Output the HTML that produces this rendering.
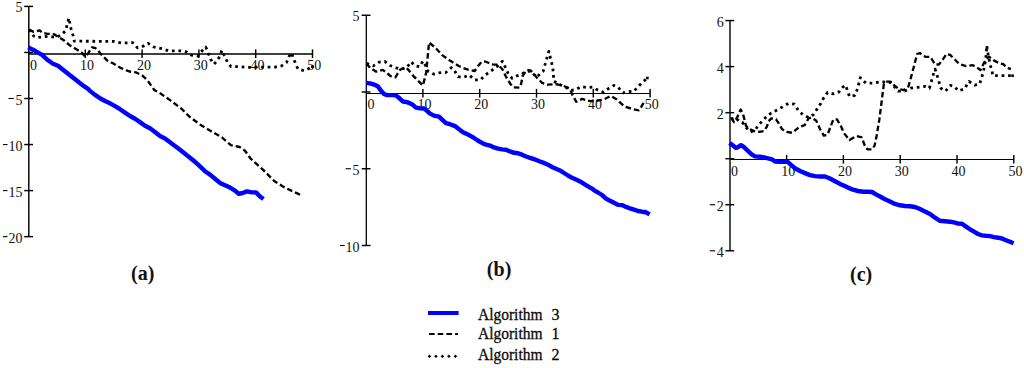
<!DOCTYPE html>
<html><head><meta charset="utf-8"><title>Algorithms comparison</title>
<style>html,body{margin:0;padding:0;background:#fff;width:1024px;height:368px;overflow:hidden;}svg{display:block;}text{font-family:"Liberation Serif",serif;}</style>
</head><body>
<svg width="1024" height="368" viewBox="0 0 1024 368" font-family="Liberation Serif, serif" fill="#111">
<line x1="28.80" y1="6.40" x2="28.80" y2="236.65" stroke="#000" stroke-width="1.45"/>
<line x1="28.80" y1="54.00" x2="312.50" y2="54.00" stroke="#000" stroke-width="1.45"/>
<line x1="24.20" y1="6.40" x2="33.00" y2="6.40" stroke="#000" stroke-width="1.45"/>
<line x1="24.20" y1="52.45" x2="33.00" y2="52.45" stroke="#000" stroke-width="1.45"/>
<line x1="24.20" y1="98.50" x2="33.00" y2="98.50" stroke="#000" stroke-width="1.45"/>
<line x1="24.20" y1="144.55" x2="33.00" y2="144.55" stroke="#000" stroke-width="1.45"/>
<line x1="24.20" y1="190.60" x2="33.00" y2="190.60" stroke="#000" stroke-width="1.45"/>
<line x1="24.20" y1="236.65" x2="33.00" y2="236.65" stroke="#000" stroke-width="1.45"/>
<line x1="85.30" y1="49.40" x2="85.30" y2="58.10" stroke="#000" stroke-width="1.45"/>
<line x1="142.10" y1="49.40" x2="142.10" y2="58.10" stroke="#000" stroke-width="1.45"/>
<line x1="198.90" y1="49.40" x2="198.90" y2="58.10" stroke="#000" stroke-width="1.45"/>
<line x1="255.70" y1="49.40" x2="255.70" y2="58.10" stroke="#000" stroke-width="1.45"/>
<line x1="312.50" y1="49.40" x2="312.50" y2="58.10" stroke="#000" stroke-width="1.45"/>
<text x="22.50" y="12.40" font-size="14" text-anchor="end" font-weight="normal" >5</text>
<rect x="8.5" y="97.95" width="5.3" height="1.1" fill="#000"/>
<text x="22.50" y="104.50" font-size="14" text-anchor="end" font-weight="normal" >5</text>
<rect x="3.0" y="144.00" width="4.5" height="1.1" fill="#000"/>
<text x="22.50" y="150.55" font-size="14" text-anchor="end" font-weight="normal" >10</text>
<rect x="3.0" y="190.05" width="4.5" height="1.1" fill="#000"/>
<text x="22.50" y="196.60" font-size="14" text-anchor="end" font-weight="normal" >15</text>
<rect x="3.0" y="236.10" width="4.5" height="1.1" fill="#000"/>
<text x="22.50" y="242.65" font-size="14" text-anchor="end" font-weight="normal" >20</text>
<text x="33.50" y="69.50" font-size="14" text-anchor="middle" font-weight="normal" >0</text>
<text x="87.10" y="69.50" font-size="14" text-anchor="middle" font-weight="normal" >10</text>
<text x="143.90" y="69.50" font-size="14" text-anchor="middle" font-weight="normal" >20</text>
<text x="200.70" y="69.50" font-size="14" text-anchor="middle" font-weight="normal" >30</text>
<text x="257.50" y="69.50" font-size="14" text-anchor="middle" font-weight="normal" >40</text>
<text x="314.30" y="69.50" font-size="14" text-anchor="middle" font-weight="normal" >50</text>
<line x1="366.30" y1="15.25" x2="366.30" y2="245.50" stroke="#000" stroke-width="1.3"/>
<line x1="366.30" y1="93.50" x2="650.10" y2="93.50" stroke="#000" stroke-width="1.0"/>
<line x1="361.70" y1="15.25" x2="370.50" y2="15.25" stroke="#000" stroke-width="1.45"/>
<line x1="361.70" y1="92.00" x2="370.50" y2="92.00" stroke="#000" stroke-width="1.45"/>
<line x1="361.70" y1="168.75" x2="370.50" y2="168.75" stroke="#000" stroke-width="1.45"/>
<line x1="361.70" y1="245.50" x2="370.50" y2="245.50" stroke="#000" stroke-width="1.45"/>
<line x1="422.90" y1="88.90" x2="422.90" y2="97.60" stroke="#000" stroke-width="1.45"/>
<line x1="479.70" y1="88.90" x2="479.70" y2="97.60" stroke="#000" stroke-width="1.45"/>
<line x1="536.50" y1="88.90" x2="536.50" y2="97.60" stroke="#000" stroke-width="1.45"/>
<line x1="593.30" y1="88.90" x2="593.30" y2="97.60" stroke="#000" stroke-width="1.45"/>
<line x1="650.10" y1="88.90" x2="650.10" y2="97.60" stroke="#000" stroke-width="1.45"/>
<text x="359.60" y="21.25" font-size="14" text-anchor="end" font-weight="normal" >5</text>
<rect x="345.6" y="168.20" width="5.3" height="1.1" fill="#000"/>
<text x="359.60" y="174.75" font-size="14" text-anchor="end" font-weight="normal" >5</text>
<rect x="340.1" y="244.95" width="4.5" height="1.1" fill="#000"/>
<text x="359.60" y="251.50" font-size="14" text-anchor="end" font-weight="normal" >10</text>
<text x="371.00" y="109.00" font-size="14" text-anchor="middle" font-weight="normal" >0</text>
<text x="424.50" y="109.00" font-size="14" text-anchor="middle" font-weight="normal" >10</text>
<text x="481.30" y="109.00" font-size="14" text-anchor="middle" font-weight="normal" >20</text>
<text x="538.10" y="109.00" font-size="14" text-anchor="middle" font-weight="normal" >30</text>
<text x="594.90" y="109.00" font-size="14" text-anchor="middle" font-weight="normal" >40</text>
<text x="651.70" y="109.00" font-size="14" text-anchor="middle" font-weight="normal" >50</text>
<line x1="730.00" y1="20.58" x2="730.00" y2="250.78" stroke="#000" stroke-width="1.4"/>
<line x1="730.00" y1="159.50" x2="1013.80" y2="159.50" stroke="#000" stroke-width="1.0"/>
<line x1="725.40" y1="20.58" x2="734.20" y2="20.58" stroke="#000" stroke-width="1.45"/>
<line x1="725.40" y1="66.62" x2="734.20" y2="66.62" stroke="#000" stroke-width="1.45"/>
<line x1="725.40" y1="112.66" x2="734.20" y2="112.66" stroke="#000" stroke-width="1.45"/>
<line x1="725.40" y1="158.70" x2="734.20" y2="158.70" stroke="#000" stroke-width="1.45"/>
<line x1="725.40" y1="204.74" x2="734.20" y2="204.74" stroke="#000" stroke-width="1.45"/>
<line x1="725.40" y1="250.78" x2="734.20" y2="250.78" stroke="#000" stroke-width="1.45"/>
<line x1="786.60" y1="154.90" x2="786.60" y2="163.60" stroke="#000" stroke-width="1.45"/>
<line x1="843.40" y1="154.90" x2="843.40" y2="163.60" stroke="#000" stroke-width="1.45"/>
<line x1="900.20" y1="154.90" x2="900.20" y2="163.60" stroke="#000" stroke-width="1.45"/>
<line x1="957.00" y1="154.90" x2="957.00" y2="163.60" stroke="#000" stroke-width="1.45"/>
<line x1="1013.80" y1="154.90" x2="1013.80" y2="163.60" stroke="#000" stroke-width="1.45"/>
<text x="723.80" y="26.58" font-size="14" text-anchor="end" font-weight="normal" >6</text>
<text x="723.80" y="72.62" font-size="14" text-anchor="end" font-weight="normal" >4</text>
<text x="723.80" y="118.66" font-size="14" text-anchor="end" font-weight="normal" >2</text>
<rect x="709.8" y="204.19" width="5.3" height="1.1" fill="#000"/>
<text x="723.80" y="210.74" font-size="14" text-anchor="end" font-weight="normal" >2</text>
<rect x="709.8" y="250.23" width="5.3" height="1.1" fill="#000"/>
<text x="723.80" y="256.78" font-size="14" text-anchor="end" font-weight="normal" >4</text>
<text x="734.50" y="175.70" font-size="14" text-anchor="middle" font-weight="normal" >0</text>
<text x="788.20" y="175.70" font-size="14" text-anchor="middle" font-weight="normal" >10</text>
<text x="845.00" y="175.70" font-size="14" text-anchor="middle" font-weight="normal" >20</text>
<text x="901.80" y="175.70" font-size="14" text-anchor="middle" font-weight="normal" >30</text>
<text x="958.60" y="175.70" font-size="14" text-anchor="middle" font-weight="normal" >40</text>
<text x="1015.40" y="175.70" font-size="14" text-anchor="middle" font-weight="normal" >50</text>
<polyline points="29.0,29.6 33.6,36.0 37.4,37.6 45.0,36.5 52.0,36.8 57.4,37.1 62.0,34.0 65.5,31.0 66.9,25.6 68.9,18.1 70.9,28.3 73.0,35.1 74.3,41.2 79.0,41.2 100.0,41.3 113.0,41.3 121.2,43.0 132.6,42.6 137.5,47.8 143.2,46.2 148.1,43.3 153.8,47.0 162.0,48.7 168.5,50.8 180.0,50.8 186.5,51.9 191.4,55.2 197.9,56.0 201.1,51.9 205.7,47.0 208.2,52.7 210.6,59.3 213.9,64.2 217.9,60.1 222.0,50.3 224.5,56.0 227.7,62.5 231.0,66.6 237.5,66.6 249.0,67.4 260.4,67.1 275.0,67.1 281.6,65.8 286.5,62.5 288.9,56.8 291.4,52.7 293.8,59.3 297.9,69.0 304.4,70.7 309.3,68.2 312.6,66.6" fill="none" stroke="#000" stroke-width="2.8" stroke-dasharray="2.7 3.8" stroke-linejoin="round"/>
<polyline points="366.5,63.4 373.4,65.9 379.1,62.2 384.8,61.4 390.1,65.5 396.3,67.9 401.2,69.1 406.9,67.5 410.9,61.8 415.6,66.0 419.7,66.8 422.9,61.1 425.4,65.2 427.0,70.1 428.6,71.7 433.5,74.1 439.2,72.8 445.8,72.5 451.5,67.6 454.7,70.9 458.0,76.6 463.3,77.5 469.0,75.0 474.7,79.9 480.4,79.9 485.3,75.0 490.9,71.0 496.7,66.9 502.4,61.2 504.8,66.1 508.1,73.4 512.1,78.3 517.0,75.8 521.9,74.2 525.2,71.8 530.7,71.0 536.4,77.1 543.1,71.4 545.0,64.7 546.9,58.1 548.8,51.4 550.7,59.0 552.6,66.6 553.5,74.2 553.5,80.9 558.3,84.1 564.9,86.6 570.6,90.4 575.4,89.8 581.1,86.6 586.8,87.5 592.5,87.1 597.5,89.9 603.5,92.2 608.7,88.4 613.9,85.4 618.4,87.7 622.9,92.9 628.6,91.4 633.3,91.8 637.9,86.9 642.4,82.3 647.7,77.9" fill="none" stroke="#000" stroke-width="2.8" stroke-dasharray="2.7 3.8" stroke-linejoin="round"/>
<polyline points="731.0,119.2 735.5,117.7 739.2,121.4 742.2,122.2 746.0,127.4 750.4,131.9 754.9,130.4 757.9,125.9 762.4,120.7 766.9,116.2 772.1,112.4 778.1,109.5 783.8,106.1 788.6,103.3 794.3,104.2 798.1,110.0 802.8,114.7 808.5,117.6 813.3,114.7 817.1,109.0 820.9,103.3 823.8,97.6 827.6,92.4 833.3,93.8 839.0,91.9 842.8,87.1 845.6,85.2 849.5,96.6 854.9,95.3 857.6,88.5 860.3,77.6 865.8,83.1 872.6,83.1 880.7,81.7 890.5,82.5 893.3,85.4 898.1,91.1 904.7,91.1 910.4,88.2 918.0,87.3 924.7,86.3 929.4,88.2 931.3,81.6 933.2,74.9 935.1,69.2 937.0,74.9 938.9,81.6 940.8,88.2 945.6,91.1 950.3,85.4 953.8,86.1 958.6,90.9 964.3,89.0 969.0,81.4 974.7,85.2 979.5,84.2 981.4,78.5 983.3,71.8 985.2,62.3 986.3,53.8 986.8,45.5 987.6,51.9 989.0,58.5 989.9,64.2 991.8,70.0 992.8,75.7 999.5,75.7 1006.1,75.7 1013.0,75.7" fill="none" stroke="#000" stroke-width="2.8" stroke-dasharray="2.7 3.8" stroke-linejoin="round"/>
<rect x="311.1" y="65.3" width="2.6" height="2.6" fill="#000"/>
<rect x="646.1" y="76.7" width="2.6" height="2.6" fill="#000"/>
<rect x="1011.3" y="74.4" width="2.6" height="2.6" fill="#000"/>
<polyline points="29.0,29.6 33.6,31.9 39.7,30.4 42.0,32.6 47.3,33.8 54.1,34.2 58.7,37.1 64.1,40.5 69.6,45.2 76.4,49.3 81.8,52.7 85.2,56.8 88.6,52.7 92.0,47.3 95.3,48.0 98.1,50.7 102.1,55.4 107.6,60.8 113.0,63.3 121.2,68.2 129.4,71.5 135.9,72.3 142.4,75.6 147.6,80.5 154.3,90.0 160.9,93.8 170.4,100.4 181.8,109.0 189.4,116.6 200.8,125.1 210.3,130.8 222.2,137.6 230.9,145.2 239.6,147.0 245.0,150.7 250.4,158.3 263.5,170.2 274.3,181.1 283.0,186.5 291.7,190.9 301.5,195.2" fill="none" stroke="#000" stroke-width="2.35" stroke-dasharray="5.5 3" stroke-linejoin="round"/>
<polyline points="366.5,63.4 370.2,67.9 375.9,71.6 382.8,69.9 388.1,74.0 390.5,76.1 395.4,77.3 397.9,73.2 400.3,69.5 406.0,67.5 408.5,69.9 413.2,75.8 419.7,82.3 422.9,85.5 424.6,79.0 426.2,72.5 427.4,59.5 428.4,49.7 429.0,42.5 434.8,47.2 442.5,55.4 450.7,61.1 458.8,66.0 462.4,67.7 468.1,69.7 474.7,71.0 477.9,66.1 481.5,62.0 485.0,61.5 487.7,62.5 492.6,64.4 498.3,64.8 502.4,69.3 506.4,77.5 510.5,84.0 513.5,87.3 519.5,87.6 521.2,83.5 522.7,75.8 526.8,70.1 530.7,70.4 536.4,77.1 542.1,82.8 547.8,84.7 555.4,84.1 563.0,85.6 569.7,88.5 572.5,95.1 576.3,101.8 582.0,98.9 587.7,100.8 595.3,101.2 603.5,99.6 610.9,95.9 616.9,99.6 620.0,102.4 624.8,106.7 630.9,108.5 635.2,109.7 638.8,110.3 640.7,107.9 643.1,103.6 645.0,101.2" fill="none" stroke="#000" stroke-width="2.35" stroke-dasharray="5.5 3" stroke-linejoin="round"/>
<polyline points="731.0,117.7 734.0,122.2 737.0,117.7 740.7,109.5 743.0,114.0 744.5,119.9 746.0,125.9 749.0,128.9 754.2,131.1 759.4,131.9 763.9,131.1 766.9,126.7 768.4,121.4 771.4,118.4 775.9,119.2 778.9,123.7 781.9,128.9 785.7,131.8 792.4,132.8 799.0,127.1 804.7,125.2 808.5,118.5 811.4,117.6 816.1,120.4 820.0,129.0 823.8,135.6 827.6,134.7 830.4,127.1 833.3,119.5 837.1,119.5 840.9,126.1 844.1,133.3 849.5,140.0 856.3,136.0 861.7,137.3 865.5,147.5 867.8,149.4 872.3,149.4 874.6,145.5 876.6,136.0 879.3,119.7 881.9,99.6 883.8,84.4 885.7,81.6 890.5,81.6 894.3,85.4 899.0,89.2 903.8,90.1 908.5,86.3 911.4,75.9 914.2,65.4 917.1,54.0 919.9,53.1 925.6,56.9 930.4,56.9 935.1,64.5 938.9,64.5 942.7,59.7 946.5,54.0 950.3,55.0 954.8,59.5 959.5,64.2 966.2,66.1 972.8,65.2 976.6,67.1 980.4,70.0 983.3,64.2 986.1,59.5 989.0,56.6 993.8,60.4 999.5,63.3 1003.3,64.2 1007.1,68.0 1010.9,69.0" fill="none" stroke="#000" stroke-width="2.35" stroke-dasharray="5.5 3" stroke-linejoin="round"/>
<polyline points="28.2,47.4 35.0,50.8 42.0,54.9 48.0,60.3 53.0,63.7 58.0,65.8 63.0,69.8 70.0,75.2 77.0,80.8 84.0,86.2 88.0,88.8 90.0,90.9 95.0,94.9 100.0,98.3 105.0,101.0 110.0,103.3 115.0,106.1 120.0,109.2 125.0,112.6 130.0,116.0 135.0,118.7 140.0,122.1 145.0,125.7 150.0,128.3 155.0,132.0 160.0,136.0 165.0,138.4 170.0,142.2 175.0,146.0 180.0,149.8 185.0,153.8 190.0,157.8 195.0,161.8 200.0,166.4 205.0,171.2 210.0,174.6 215.0,178.8 220.0,182.9 225.0,185.2 230.0,187.6 235.0,190.6 238.5,193.7 242.0,193.3 247.0,191.4 252.0,192.4 256.0,192.4 260.0,196.5 263.5,199.0" fill="none" stroke="#0000ff" stroke-width="4.4" stroke-linejoin="round" stroke-linecap="butt"/>
<polyline points="366.3,82.9 370.0,83.4 375.0,84.8 378.0,86.5 381.0,90.6 384.0,94.0 387.0,95.1 392.0,95.1 396.0,95.4 400.0,98.8 403.0,101.5 407.0,102.1 412.0,104.2 416.0,107.6 420.0,108.2 424.0,108.5 427.0,110.9 430.0,113.6 434.0,115.6 439.0,116.6 443.0,120.4 446.0,123.1 450.0,124.2 455.0,126.1 459.0,129.2 463.0,132.3 468.0,134.6 473.0,137.3 477.0,140.0 480.0,141.8 482.0,142.9 486.0,144.7 490.0,145.6 494.0,147.4 498.0,148.7 502.0,149.4 506.0,149.7 510.0,151.4 514.0,152.8 518.0,153.3 522.0,154.7 526.0,156.5 530.0,157.8 534.0,159.2 537.0,160.3 540.0,161.5 544.0,162.9 548.0,164.7 552.0,167.0 556.0,168.7 560.0,170.4 564.0,173.0 568.0,175.5 572.0,177.8 576.0,179.5 580.0,181.4 584.0,183.9 588.0,186.3 592.0,188.6 595.0,190.9 598.0,192.5 602.0,195.0 606.0,198.6 610.0,200.8 614.0,202.8 618.0,204.9 622.0,205.1 626.0,206.9 630.0,208.3 634.0,209.6 638.0,211.0 642.0,211.7 646.0,212.3 649.6,214.4" fill="none" stroke="#0000ff" stroke-width="4.4" stroke-linejoin="round" stroke-linecap="butt"/>
<polyline points="729.5,142.9 733.0,145.6 736.0,147.9 738.0,147.2 741.0,145.2 744.0,147.2 748.0,151.0 752.0,154.7 755.0,156.4 760.0,156.7 764.0,157.4 768.0,158.3 772.0,159.4 775.0,161.5 780.0,161.9 785.0,161.5 788.0,162.2 791.0,164.9 795.0,168.3 800.0,171.0 805.0,173.1 810.0,175.1 815.0,176.1 820.0,176.5 825.0,176.5 830.0,178.5 835.0,181.2 840.0,183.9 843.0,185.2 848.0,187.6 853.0,189.7 858.0,191.0 863.0,191.7 868.0,191.7 872.0,192.0 876.0,194.4 880.0,196.5 885.0,199.2 890.0,201.5 895.0,203.9 900.0,205.3 905.0,206.0 910.0,206.3 915.0,207.0 920.0,209.0 925.0,211.6 930.0,213.9 935.0,217.7 940.0,220.8 945.0,221.3 950.0,221.7 955.0,222.7 958.0,223.6 962.0,223.8 966.0,226.6 970.0,229.3 974.0,231.7 978.0,234.0 982.0,235.4 986.0,235.8 990.0,236.1 994.0,237.1 998.0,237.7 1002.0,238.5 1006.0,240.2 1010.0,241.8 1013.6,243.2" fill="none" stroke="#0000ff" stroke-width="4.4" stroke-linejoin="round" stroke-linecap="butt"/>
<text x="142.70" y="280.00" font-size="20" text-anchor="middle" font-weight="bold" >(a)</text>
<text x="499.10" y="275.50" font-size="20" text-anchor="middle" font-weight="bold" >(b)</text>
<text x="861.10" y="281.00" font-size="20" text-anchor="middle" font-weight="bold" >(c)</text>
<line x1="428" y1="313" x2="458.6" y2="313" stroke="#0000ff" stroke-width="4"/>
<line x1="429" y1="334" x2="458" y2="334" stroke="#000" stroke-width="2.1" stroke-dasharray="5.6 3.1"/>
<rect x="427.9" y="355.7" width="3" height="1.3" fill="#000"/><rect x="428.75" y="354.8" width="1.3" height="3" fill="#000"/>
<rect x="434.4" y="355.7" width="3" height="1.3" fill="#000"/><rect x="435.25" y="354.8" width="1.3" height="3" fill="#000"/>
<rect x="440.9" y="355.7" width="3" height="1.3" fill="#000"/><rect x="441.75" y="354.8" width="1.3" height="3" fill="#000"/>
<rect x="447.4" y="355.7" width="3" height="1.3" fill="#000"/><rect x="448.25" y="354.8" width="1.3" height="3" fill="#000"/>
<rect x="453.9" y="355.7" width="3" height="1.3" fill="#000"/><rect x="454.75" y="354.8" width="1.3" height="3" fill="#000"/>
<text x="478.00" y="319.60" font-size="16" text-anchor="start" font-weight="normal" textLength="64.5" lengthAdjust="spacingAndGlyphs" stroke="#000" stroke-width="0.3">Algorithm</text>
<text x="551.50" y="319.60" font-size="16" text-anchor="start" font-weight="normal" stroke="#000" stroke-width="0.3">3</text>
<text x="478.00" y="339.30" font-size="16" text-anchor="start" font-weight="normal" textLength="64.5" lengthAdjust="spacingAndGlyphs" stroke="#000" stroke-width="0.3">Algorithm</text>
<text x="551.50" y="339.30" font-size="16" text-anchor="start" font-weight="normal" stroke="#000" stroke-width="0.3">1</text>
<text x="478.00" y="360.40" font-size="16" text-anchor="start" font-weight="normal" textLength="64.5" lengthAdjust="spacingAndGlyphs" stroke="#000" stroke-width="0.3">Algorithm</text>
<text x="551.50" y="360.40" font-size="16" text-anchor="start" font-weight="normal" stroke="#000" stroke-width="0.3">2</text>
</svg>
</body></html>
